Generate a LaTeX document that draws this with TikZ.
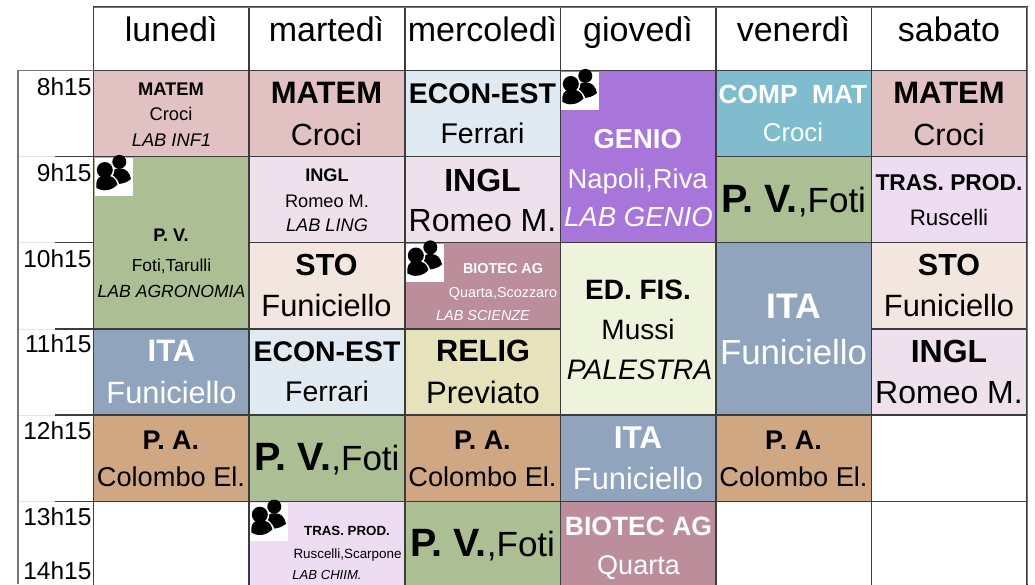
\documentclass[tikz,border=0pt]{standalone}
\usepackage{fontspec}
\setmainfont{Liberation Sans}
\definecolor{cMat}{HTML}{E2C1C2}
\definecolor{cEcon}{HTML}{DFEAF2}
\definecolor{cIng}{HTML}{EEE1EC}
\definecolor{cPv}{HTML}{ACBE94}
\definecolor{cSto}{HTML}{F3E6DE}
\definecolor{cIta}{HTML}{91A4BD}
\definecolor{cPa}{HTML}{CFA883}
\definecolor{cGen}{HTML}{A875DA}
\definecolor{cBio}{HTML}{BC8E9B}
\definecolor{cEd}{HTML}{EEF3DC}
\definecolor{cRel}{HTML}{E5E2BC}
\definecolor{cCom}{HTML}{7FBCCD}
\definecolor{cTra}{HTML}{EEDCF2}
\definecolor{cLine}{HTML}{3C3C3C}
\definecolor{cOuter}{HTML}{757575}
\definecolor{cFaint}{HTML}{E4E4E4}
\tikzset{
  x=1pt,y=-1pt,
  cellbox/.style={draw=cLine,line width=1.1pt},
  lab/.style={inner sep=0pt,outer sep=0pt,anchor=base},
  timelab/.style={inner sep=0pt,outer sep=0pt,anchor=base east},
}
% \tx{x}{baseline}{size}{colour}{font switch}{text}
\newcommand{\tx}[6]{\node[lab,text=#4] at (#1,#2) {\fontsize{#3pt}{#3pt}\selectfont#5#6};}
\newcommand{\pvfoti}[2]{\node[lab] at (#1,#2) {\fontsize{39.5pt}{39.5pt}\selectfont\bfseries P. V.\fontsize{35pt}{35pt}\selectfont\mdseries,Foti};}
\newcommand{\people}[2]{%
  \begin{scope}[shift={(#1,#2)}]
    \fill[white] (0,0) rectangle (38,38);
    \fill[black] (24.3,3.9) circle (7);
    \fill[black] (16,14) .. controls (18,11.5) and (21,10.5) .. (25,10.5) .. controls (31,10.5) and (34.5,14) .. (36,21) .. controls (32,24.5) and (27,26) .. (22,26) -- cycle;
    \fill[white] (9.8,12) circle (9.6);
    \fill[white] (0,24) .. controls (1,18) and (5,15.5) .. (10,15.5) .. controls (17,15.5) and (22,19) .. (24.5,27) .. controls (17,35.5) and (6,35.5) .. (0,31.5) -- cycle;
    \fill[black] (9.8,12) circle (8);
    \fill[black] (1.4,25) .. controls (2,20) and (5,17.5) .. (10.5,17.5) .. controls (16.5,17.5) and (21,20) .. (22.5,26.5) .. controls (16,33.5) and (7,33.5) .. (1.4,30) -- cycle;
  \end{scope}}
\begin{document}
\begin{tikzpicture}
\useasboundingbox (0,0) rectangle (1035,584);
\fill[white] (0,0) rectangle (1035,584);
% row 1
\draw[cellbox,fill=cMat] (93.5,70.5) rectangle (249,156.5);
\draw[cellbox,fill=cMat] (249,70.5) rectangle (405,156.5);
\draw[cellbox,fill=cEcon] (405,70.5) rectangle (560.5,156.5);
\draw[cellbox,fill=cGen] (560.5,70.5) rectangle (716,242.5);
\draw[cellbox,fill=cCom] (716,70.5) rectangle (871.5,156.5);
\draw[cellbox,fill=cMat] (871.5,70.5) rectangle (1027,156.5);
% row 2
\draw[cellbox,fill=cPv] (93.5,156.5) rectangle (249,329);
\draw[cellbox,fill=cIng] (249,156.5) rectangle (405,242.5);
\draw[cellbox,fill=cIng] (405,156.5) rectangle (560.5,242.5);
\draw[cellbox,fill=cPv] (716,156.5) rectangle (871.5,242.5);
\draw[cellbox,fill=cTra] (871.5,156.5) rectangle (1027,242.5);
% row 3
\draw[cellbox,fill=cSto] (249,242.5) rectangle (405,329);
\draw[cellbox,fill=cBio] (405,242.5) rectangle (560.5,329);
\draw[cellbox,fill=cEd] (560.5,242.5) rectangle (716,415);
\draw[cellbox,fill=cIta] (716,242.5) rectangle (871.5,415);
\draw[cellbox,fill=cSto] (871.5,242.5) rectangle (1027,329);
% row 4
\draw[cellbox,fill=cIta] (93.5,329) rectangle (249,415);
\draw[cellbox,fill=cEcon] (249,329) rectangle (405,415);
\draw[cellbox,fill=cRel] (405,329) rectangle (560.5,415);
\draw[cellbox,fill=cIng] (871.5,329) rectangle (1027,415);
% row 5
\draw[cellbox,fill=cPa] (93.5,415) rectangle (249,501.5);
\draw[cellbox,fill=cPv] (249,415) rectangle (405,501.5);
\draw[cellbox,fill=cPa] (405,415) rectangle (560.5,501.5);
\draw[cellbox,fill=cIta] (560.5,415) rectangle (716,501.5);
\draw[cellbox,fill=cPa] (716,415) rectangle (871.5,501.5);
\draw[cellbox,fill=white] (871.5,415) rectangle (1027,501.5);
% row 6
\draw[cellbox,fill=white] (93.5,501.5) rectangle (249,600);
\draw[cellbox,fill=cTra] (249,501.5) rectangle (405,600);
\draw[cellbox,fill=cPv] (405,501.5) rectangle (560.5,600);
\draw[cellbox,fill=cBio] (560.5,501.5) rectangle (716,600);
\draw[cellbox,fill=white] (716,501.5) rectangle (871.5,600);
\draw[cellbox,fill=white] (871.5,501.5) rectangle (1027,600);
% header
\draw[cellbox] (93.5,7) rectangle (249,70.5);
\draw[cellbox] (249,7) rectangle (405,70.5);
\draw[cellbox] (405,7) rectangle (560.5,70.5);
\draw[cellbox] (560.5,7) rectangle (716,70.5);
\draw[cellbox] (716,7) rectangle (871.5,70.5);
\draw[cellbox] (871.5,7) rectangle (1027,70.5);
\draw[cOuter,line width=.9pt] (93.5,7) -- (1027,7);
\draw[cOuter,line width=1.6pt] (1027.5,7) -- (1027.5,584);
% time column
\foreach \yy in {156.5,242.5,329,415,501.5}
  \draw[cFaint,line width=.7pt] (18,\yy) -- (55,\yy);
\draw[cOuter,line width=1.4pt] (18,584) -- (18,70.5) -- (93.5,70.5);
\foreach \yy in {156.5,242.5,329,415,501.5}
  \draw[cLine,line width=1.1pt] (55,\yy) -- (93.5,\yy);
\foreach \yy/\tt in {95/8h15,181/9h15,267/10h15,352.7/11h15,439.3/12h15,525.7/13h15,579/14h15}
  \node[timelab] at (91.5,\yy) {\fontsize{24.5pt}{24.5pt}\selectfont \tt};
% header text
\tx{171.25}{41.7}{34}{black}{}{lunedì}
\tx{326.5}{41.7}{34}{black}{}{martedì}
\tx{482.5}{41.7}{34}{black}{}{mercoledì}
\tx{638}{41.7}{34}{black}{}{giovedì}
\tx{793.5}{41.7}{34}{black}{}{venerdì}
\tx{949}{41.7}{34}{black}{}{sabato}
% monday
\tx{171}{95}{18.3}{black}{\bfseries}{MATEM}
\tx{171}{120}{18.3}{black}{}{Croci}
\tx{171.5}{146}{18.3}{black}{\itshape}{LAB INF1}
\tx{171}{241.7}{18.2}{black}{\bfseries}{P. V.}
\tx{171.5}{271}{17.4}{black}{}{Foti,Tarulli}
\tx{171.5}{297.7}{17.6}{black}{\itshape}{LAB AGRONOMIA}
\tx{171.5}{361.7}{31}{white}{\bfseries}{ITA}
\tx{171.5}{403.3}{30.8}{white}{}{Funiciello}
\tx{171}{449}{27}{black}{\bfseries}{P. A.}
\tx{171}{486.7}{27.2}{black}{}{Colombo El.}
% tuesday
\tx{326.5}{103}{31}{black}{\bfseries}{MATEM}
\tx{326.5}{145}{30.6}{black}{}{Croci}
\tx{327}{181}{18.2}{black}{\bfseries}{INGL}
\tx{327}{207.3}{18.2}{black}{}{Romeo M.}
\tx{327}{231.7}{18.2}{black}{\itshape}{LAB LING}
\tx{326.5}{275}{30.5}{black}{\bfseries}{STO}
\tx{326.5}{316}{30.8}{black}{}{Funiciello}
\tx{327}{361.7}{28.4}{black}{\bfseries}{ECON-EST}
\tx{327}{401.7}{28.4}{black}{}{Ferrari}
\pvfoti{327}{470.7}
\tx{347}{535}{13.3}{black}{\bfseries}{TRAS. PROD.}
\tx{347.5}{558}{13.4}{black}{}{Ruscelli,Scarpone}
\tx{327}{579.3}{13.1}{black}{\itshape}{LAB CHIIM.}
% wednesday
\tx{482.5}{103}{28.5}{black}{\bfseries}{ECON-EST}
\tx{482.5}{143.3}{28.5}{black}{}{Ferrari}
\tx{482.5}{191}{32}{black}{\bfseries}{INGL}
\tx{482.5}{231.7}{32}{black}{}{Romeo M.}
\tx{503}{273.3}{14.4}{white}{\bfseries}{BIOTEC AG}
\tx{503}{297.7}{14.4}{white}{}{Quarta,Scozzaro}
\tx{483}{320.7}{14.4}{white}{\itshape}{LAB SCIENZE}
\tx{483}{361.7}{30.7}{black}{\bfseries}{RELIG}
\tx{483}{403.3}{31}{black}{}{Previato}
\tx{482.5}{449}{27}{black}{\bfseries}{P. A.}
\tx{482.5}{486.7}{27.2}{black}{}{Colombo El.}
\pvfoti{482.5}{556}
% thursday
\tx{637.7}{148.3}{27.4}{white}{\bfseries}{GENIO}
\tx{637.7}{188.3}{27.4}{white}{}{Napoli,Riva}
\tx{638.5}{226}{27.6}{white}{\itshape}{LAB GENIO}
\tx{638}{299}{28}{black}{\bfseries}{ED. FIS.}
\tx{638}{339}{28}{black}{}{Mussi}
\tx{639.5}{379}{28.2}{black}{\itshape}{PALESTRA}
\tx{638}{448}{31.5}{white}{\bfseries}{ITA}
\tx{638}{489}{30.8}{white}{}{Funiciello}
\tx{638.5}{535}{26.5}{white}{\bfseries}{BIOTEC AG}
\tx{638.5}{574}{27}{white}{}{Quarta}
% friday
\tx{793}{103}{26.3}{white}{\bfseries}{COMP\ \ MAT}
\tx{793}{141.7}{25.8}{white}{}{Croci}
\pvfoti{793.5}{212.3}
\tx{793.5}{318}{35.5}{white}{\bfseries}{ITA}
\tx{793.5}{364}{34.8}{white}{}{Funiciello}
\tx{793.5}{449}{27}{black}{\bfseries}{P. A.}
\tx{793.5}{486.7}{27.2}{black}{}{Colombo El.}
% saturday
\tx{949}{103}{31}{black}{\bfseries}{MATEM}
\tx{949}{145}{30.6}{black}{}{Croci}
\tx{949}{190.7}{22.8}{black}{\bfseries}{TRAS. PROD.}
\tx{949}{225}{22.4}{black}{}{Ruscelli}
\tx{949}{275}{30.5}{black}{\bfseries}{STO}
\tx{949}{316}{30.8}{black}{}{Funiciello}
\tx{949}{362}{32}{black}{\bfseries}{INGL}
\tx{949}{403.3}{32}{black}{}{Romeo M.}
% group icons
\people{95}{158}
\people{561}{72}
\people{406}{243.5}
\people{250}{502.7}
\end{tikzpicture}
\end{document}
